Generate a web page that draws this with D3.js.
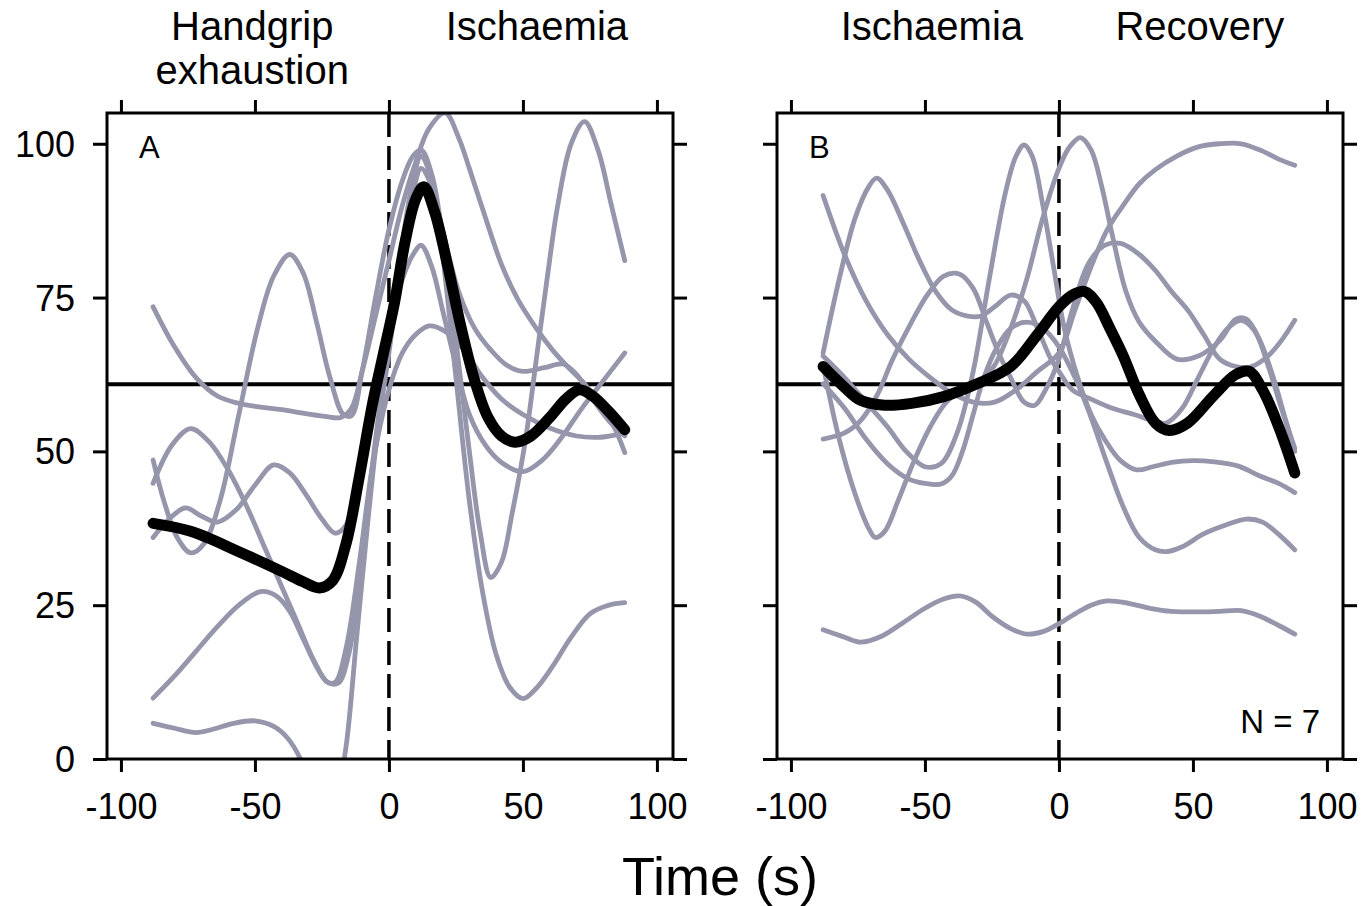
<!DOCTYPE html>
<html><head><meta charset="utf-8">
<script src="https://cdn.jsdelivr.net/npm/d3@7"></script>
<style>
html,body{margin:0;padding:0;background:#fff;}
svg text{font-family:"Liberation Sans",Arial,sans-serif;fill:#000;}
</style></head>
<body>
<svg id="chart" width="1372" height="906"></svg>
<script>
// ---------- data ----------
const xTicks = [-100, -50, 0, 50, 100];
const yTicks = [0, 25, 50, 75, 100];
const refLevel = 60.9;
const phaseLabelsA = [["Handgrip", "exhaustion"], ["Ischaemia"]];
const phaseLabelsB = [["Ischaemia"], ["Recovery"]];

// Panel A: individual subjects [time, value]
const a1 = [[-88,73.5],[-80,67],[-72,62],[-64,59],[-56,57.8],[-48,57.2],[-40,56.8],[-32,56.2],[-24,55.7],[-18,55.5],[-14,57],[-10,63],[-5,72],[0,81],[5,90],[10,97],[15,102.5],[21,105],[26,101],[30,96],[36,88],[42,80.4],[48,74.8],[55,70],[61,66.5],[67,63.6],[73,61],[79,57.3],[84,54],[88,49.8]];
const a2 = [[-88,48.6],[-84,42],[-79,36],[-74,33.5],[-69,35],[-63,42],[-56,56],[-49,70],[-43,78.5],[-37,82],[-32,79],[-27,71],[-22,62],[-17,56],[-14,55.8],[-10,63],[-5,75],[0,86],[5,94],[9,98],[12,99],[16,95],[20,85],[25,68],[30,50],[34,37],[38,29.5],[42,32],[46,40],[51,52],[55,65],[59,78],[63,90],[68,100],[73,103.6],[78,99],[83,90],[88,81]];
const a3 = [[-88,44.8],[-81,51],[-74,53.7],[-67,51.5],[-60,47],[-53,41],[-46,34],[-40,28],[-34,22],[-28,16],[-23,12.5],[-19,12.3],[-15,17],[-10,33],[-5,52],[0,68],[5,84],[9,94],[12,98],[16,94],[20,82],[25,62],[30,42],[35,27],[40,17],[45,11.7],[50,9.8],[55,11.5],[61,15],[68,19.8],[75,23.6],[82,25],[88,25.4]];
const a4 = [[-88,36],[-82,39],[-76,40.8],[-70,39.5],[-64,38.5],[-57,40.5],[-50,44.5],[-43,47.8],[-37,46.5],[-31,43],[-25,39],[-20,36.7],[-16,38],[-11,46],[-5,60],[0,70],[5,78],[9,82],[12,83.5],[16,80],[20,73],[25,64],[30,56],[36,51],[42,48.2],[50,46.7],[57,48.5],[64,52],[72,57],[80,61.5],[88,66]];
const a5 = [[-88,9.9],[-80,13.5],[-72,17.5],[-64,21.5],[-56,25],[-48,27.2],[-42,26.5],[-37,24],[-32,19.5],[-27,15],[-23,12.5],[-20,12.5],[-16,18],[-11,32],[-6,48],[0,60],[5,66],[10,69],[15,70.4],[21,69.5],[28,66.5],[35,62],[42,58.5],[50,56],[60,53.8],[70,52.5],[79,52.3],[88,53]];
const a6 = [[-88,5.8],[-80,5],[-72,4.3],[-66,4.8],[-58,5.8],[-50,6.2],[-43,5.3],[-38,3.5],[-33,0],[-28,-6],[-23,-9],[-19,-5],[-16,2],[-12,20],[-8,38],[-4,54],[0,66],[5,82],[9,92],[12,96],[16,93],[20,86],[26,76],[32,70],[38,66.5],[44,64],[50,63],[58,63.6],[65,64.2],[70,62.5],[76,58.5],[82,55],[88,52.5]];
const meanA = [[-88,38.3],[-74,37],[-56,33.7],[-40,30.5],[-32,28.8],[-26,27.8],[-21,29],[-16,35],[-11,46],[-6,58],[-2,66],[2,74],[6,84],[10,91],[13,93],[17,89],[22,80],[27,70],[32,61.5],[37,55.5],[42,52.5],[47,51.5],[53,52.5],[60,55.5],[66,58.5],[71,60],[76,59],[82,56.5],[88,53.5]];

// Panel B: individual subjects [time, value]
const b1 = [[-88,91.6],[-80,82],[-72,74.5],[-64,69],[-56,65],[-48,62],[-40,59.5],[-32,58],[-24,58],[-16,60],[-8,63],[0,66],[6,73],[12,80],[18,86],[24,90],[30,93.5],[36,95.8],[44,98],[52,99.5],[60,100],[68,100],[76,98.8],[82,97.5],[88,96.5]];
const b2 = [[-88,66],[-82,78],[-76,88],[-71,93],[-68,94.4],[-64,92.5],[-58,87],[-52,81],[-46,76],[-40,73],[-34,72],[-29,72],[-24,73.5],[-18,75.4],[-13,74.5],[-8,70],[-3,65],[0,63],[5,60],[12,58.5],[20,57],[28,56],[35,55],[40,54.6],[46,57],[52,62],[58,67],[63,70],[68,71.3],[73,69.6],[78,64],[83,57],[88,50.5]];
const b3 = [[-88,52],[-80,53],[-74,55],[-68,59],[-62,65],[-55,71],[-49,75.5],[-43,78.5],[-37,78.8],[-32,76.5],[-27,71],[-22,65.5],[-18,62],[-13,58],[-9,57.5],[-5,60],[0,65],[5,73],[11,80.5],[17,83.5],[23,83.8],[30,82],[36,79.4],[42,76],[48,73],[54,69],[60,65],[66,63.8],[72,63.8],[78,65.5],[83,68],[88,71.3]];
const b4 = [[-88,65.5],[-80,62],[-72,58],[-64,54],[-57,50],[-50,47.5],[-44,48],[-38,53],[-32,63],[-26,78],[-20,92],[-16,98],[-13,99.8],[-10,98],[-6,90],[-2,80],[2,70],[7,62],[12,56],[17,52],[23,48.5],[29,47],[35,47.5],[42,48.2],[50,48.5],[58,48.3],[67,47.6],[75,46],[82,44.8],[88,43.3]];
const b5 = [[-88,64],[-82,52],[-76,43],[-71,37.5],[-68.5,36],[-65,37],[-60,42],[-54,48.5],[-48,54],[-42,58],[-36,60],[-30,61],[-24,64],[-18,70],[-12,78],[-6,88],[0,96],[4,99.5],[8,101],[12,99],[16,93],[20,85],[25,76],[30,71],[36,67.9],[44,65],[52,65.5],[60,68],[66,71.5],[70,71.5],[75,68],[80,62],[84,56],[88,50]];
const b6 = [[-88,61],[-80,57],[-72,52],[-64,48],[-56,45.5],[-50,44.8],[-44,44.7],[-40,46],[-36,50],[-32,56],[-28,62],[-23,67],[-18,70],[-12,71],[-6,70],[0,67],[6,62],[12,55.5],[18,48],[24,41],[30,36],[36,34],[40,33.7],[46,34.5],[54,36.6],[62,38],[70,39],[76,38.5],[82,36.5],[88,34]];
const b7 = [[-88,21],[-80,19.8],[-74,19],[-66,20],[-58,22.2],[-50,24.5],[-43,26],[-37,26.5],[-31,25.5],[-25,23.2],[-18,21.2],[-12,20.3],[-6,20.7],[0,22],[6,23.6],[12,25],[18,25.7],[26,25.3],[34,24.5],[42,24],[52,23.9],[60,24],[68,24.1],[75,23.2],[82,21.7],[88,20.3]];
const meanB = [[-88,63.8],[-80,60.4],[-74,58.3],[-65,57.5],[-55,57.8],[-43,58.9],[-31,60.9],[-18,63.8],[-8,69],[0,73.5],[5,75.4],[9.5,76],[14,74.2],[19,70],[24,65.5],[30,59.2],[36,54.6],[41,53.4],[48,54.6],[58,59.2],[66,62.5],[71,63],[76,60],[82,54],[88,46.5]];

const subjectsA = [a1, a2, a3, a4, a5, a6];
const subjectsB = [b1, b2, b3, b4, b5, b6, b7];

// ---------- drawing ----------
const svg = d3.select("#chart");
const grey = "#9595ab";
const plotTop = 113, plotBottom = 759;
const y = d3.scaleLinear().domain([0, 105]).range([plotBottom, plotTop]);
const plainFmt = d => String(d);   // hyphen-minus, as in the original

function panel(left, right, subjects, mean, letter, labels, labelAt, showYLabels, clipId) {
  const x = d3.scaleLinear().domain([-105.2, 106]).range([left, right]);
  const g = svg.append("g");

  g.append("clipPath").attr("id", clipId).append("rect")
    .attr("x", left).attr("y", plotTop).attr("width", right - left).attr("height", plotBottom - plotTop);

  const line = d3.line().x(d => x(d[0])).y(d => y(d[1])).curve(d3.curveCatmullRom.alpha(0.5));

  g.append("line").attr("x1", left).attr("x2", right)
    .attr("y1", y(refLevel)).attr("y2", y(refLevel))
    .attr("stroke", "#000").attr("stroke-width", 4);

  g.append("line").attr("x1", x(0)).attr("x2", x(0)).attr("y1", plotTop).attr("y2", plotBottom)
    .attr("stroke", "#000").attr("stroke-width", 3.5).attr("stroke-dasharray", "24,9");

  const cg = g.append("g").attr("clip-path", `url(#${clipId})`);
  cg.selectAll("path.subj").data(subjects).join("path").attr("class", "subj")
    .attr("d", line).attr("fill", "none").attr("stroke", grey)
    .attr("stroke-width", 4.8).attr("stroke-linecap", "round").attr("stroke-linejoin", "round");
  cg.append("path").datum(mean).attr("d", line).attr("fill", "none")
    .attr("stroke", "#000").attr("stroke-width", 11).attr("stroke-linecap", "round").attr("stroke-linejoin", "round");

  g.append("rect").attr("x", left).attr("y", plotTop).attr("width", right - left).attr("height", plotBottom - plotTop)
    .attr("fill", "none").attr("stroke", "#000").attr("stroke-width", 3);

  const styleAxis = sel => {
    sel.select(".domain").remove();
    sel.selectAll(".tick line").attr("stroke", "#000").attr("stroke-width", 3);
    sel.selectAll("text").style("font-size", "36px").attr("fill", "#000");
  };

  const xb = g.append("g").attr("transform", `translate(0,${plotBottom})`)
    .call(d3.axisBottom(x).tickValues(xTicks).tickSize(13).tickFormat(plainFmt));
  styleAxis(xb);
  xb.selectAll("text").attr("y", 60).attr("dy", 0);

  g.append("g").attr("transform", `translate(0,${plotTop})`)
    .call(d3.axisTop(x).tickValues(xTicks).tickSize(13).tickFormat("")).call(styleAxis);

  const yl = g.append("g").attr("transform", `translate(${left},0)`)
    .call(d3.axisLeft(y).tickValues(yTicks).tickSize(14).tickFormat(showYLabels ? plainFmt : ""));
  styleAxis(yl);
  yl.selectAll("text").attr("x", -32).attr("dy", "0.35em");

  g.append("g").attr("transform", `translate(${right},0)`)
    .call(d3.axisRight(y).tickValues(yTicks).tickSize(14).tickFormat("")).call(styleAxis);

  g.append("text").attr("x", left + 32).attr("y", 158).style("font-size", "31px").text(letter);

  labels.forEach((lines, i) => {
    const t = g.append("text").attr("text-anchor", "middle").style("font-size", "40px");
    lines.forEach((s, j) => t.append("tspan").attr("x", x(labelAt[i])).attr("y", 40 + j * 44).text(s));
  });
  return x;
}

panel(107, 673, subjectsA, meanA, "A", phaseLabelsA, [-51, 55.2], true, "clipA");
panel(777, 1343, subjectsB, meanB, "B", phaseLabelsB, [-47.4, 52.6], false, "clipB");

svg.append("text").attr("x", 1320).attr("y", 733).attr("text-anchor", "end")
  .style("font-size", "33px").text("N = 7");

svg.append("text").attr("x", 720).attr("y", 895).attr("text-anchor", "middle")
  .style("font-size", "54px").text("Time (s)");
</script>
</body></html>
